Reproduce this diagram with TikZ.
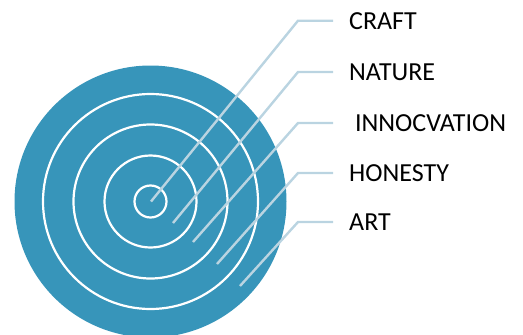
\documentclass[tikz,border=0pt]{standalone}
\usepackage{fontspec}
\setmainfont{Carlito}
\definecolor{disc}{HTML}{3795BA}
\definecolor{leadcol}{HTML}{BAD4E1}
\begin{document}
\begin{tikzpicture}[x=1pt,y=-1pt,
  ring/.style={draw=white,line width=2.2pt},
  leader/.style={draw=leadcol,line width=2.4pt},
  lbl/.style={anchor=base west,inner sep=0pt,font=\fontsize{26}{30}\selectfont,text=black}]
\useasboundingbox (0,0) rectangle (523,335);
% target disc and its white rings
\fill[disc] (150.5,201.5) circle[radius=136pt];
\foreach \r in {16,46,77,107.5}
  \draw[ring] (150.5,201.5) circle[radius=\r pt];
% labels
\node[lbl] (craft) at (349,29) {CRAFT};
\node[lbl] (nature) at (349,80.5) {NATURE};
\node[lbl] (innov) at (349,131.5) {\ INNOCVATION};
\node[lbl] (honesty) at (349,181.5) {HONESTY};
\node[lbl] (art) at (349,230.5) {ART};
% leader end points inside the disc
\coordinate (e1) at (151,201.5);
\coordinate (e2) at (173,223);
\coordinate (e3) at (193,242);
\coordinate (e4) at (217,264);
\coordinate (e5) at (240,286);
% leader lines
\foreach \e/\n/\y in {e1/craft/20.7,e2/nature/72,e3/innov/123,e4/honesty/173,e5/art/222}{
  \coordinate (k-\n) at (298,\y);
  \coordinate (s-\n) at (333,\y);
  \draw[leader] (\e) -- (k-\n) -- (s-\n);
}
\end{tikzpicture}
\end{document}
